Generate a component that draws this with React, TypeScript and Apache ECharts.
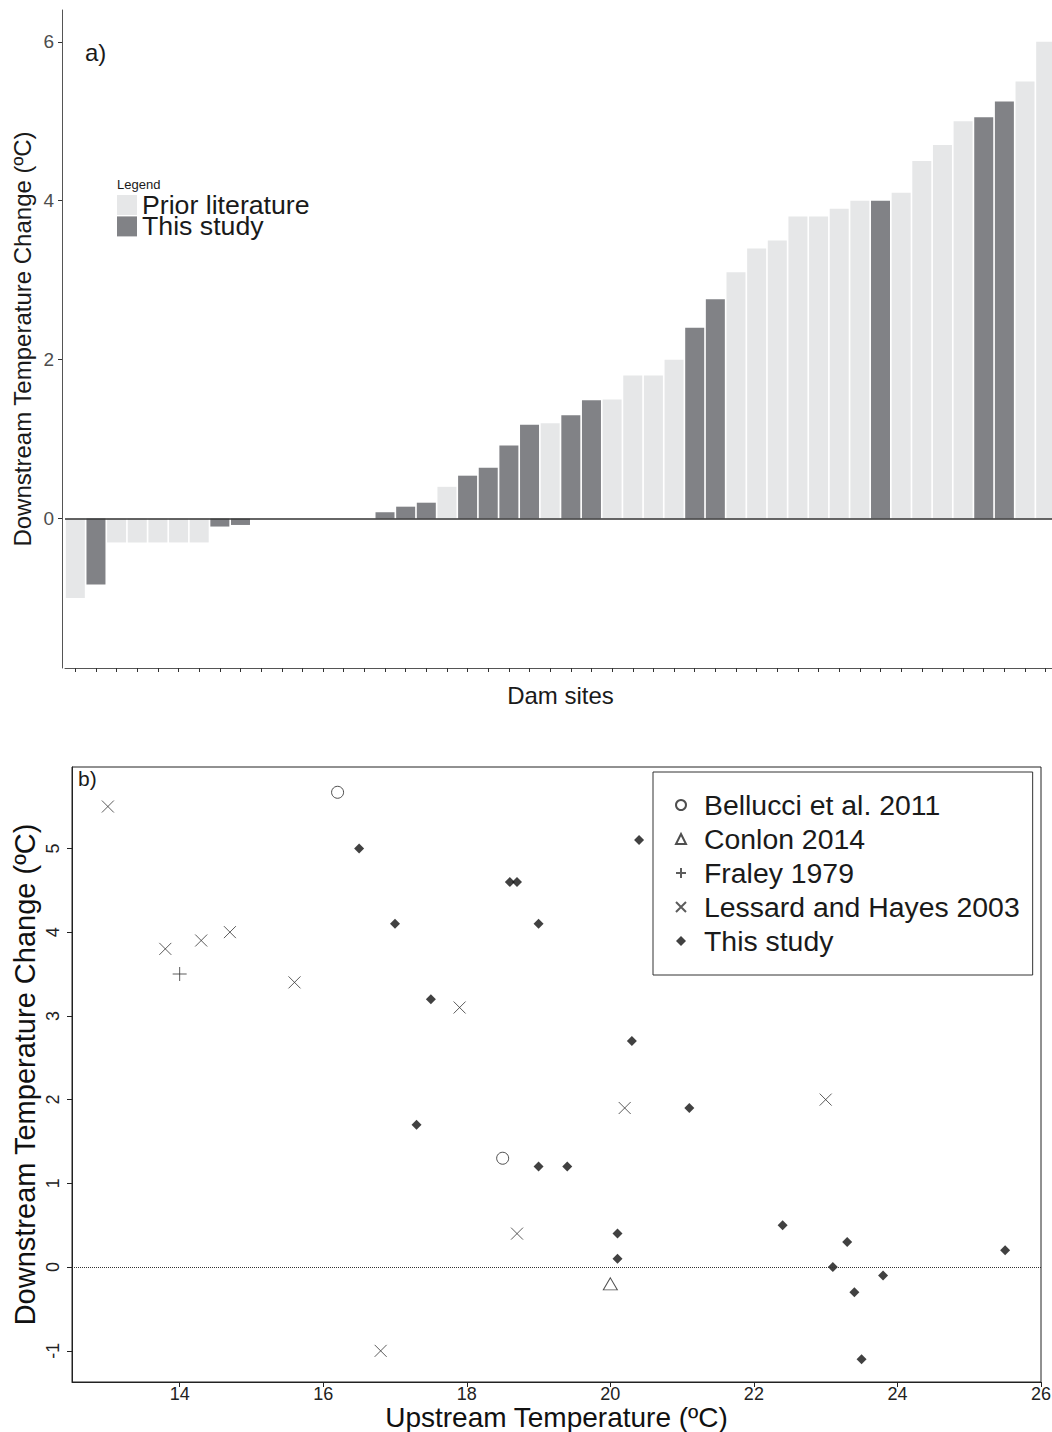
import React, { useEffect, useRef } from 'react';
import * as echarts from 'echarts';

const FONT = '"Liberation Sans", Arial, Helvetica, sans-serif';

// ---- Panel a) : downstream temperature change per dam site ----
const damValues = [
  -1.0, -0.83, -0.3, -0.3, -0.3, -0.3, -0.3, -0.1, -0.08, 0, 0, 0, 0, 0, 0, 0.08,
  0.15, 0.2, 0.4, 0.54, 0.64, 0.92, 1.18, 1.2, 1.3, 1.49, 1.5, 1.8, 1.8, 2.0, 2.4, 2.76,
  3.1, 3.4, 3.5, 3.8, 3.8, 3.9, 4.0, 4.0, 4.1, 4.5, 4.7, 5.0, 5.05, 5.25, 5.5, 6.0,
];
// P = Prior literature, T = This study
const damSource = [
  'P', 'T', 'P', 'P', 'P', 'P', 'P', 'T', 'T', 'P', 'P', 'P', 'P', 'P', 'P', 'T',
  'T', 'T', 'P', 'T', 'T', 'T', 'T', 'P', 'T', 'T', 'P', 'P', 'P', 'P', 'T', 'T',
  'P', 'P', 'P', 'P', 'P', 'P', 'P', 'T', 'P', 'P', 'P', 'P', 'T', 'T', 'P', 'P',
];
const damSites = damValues.map((_, i) => `Site ${i + 1}`);
const topYTicks = [0, 2, 4, 6];

// ---- Panel b) : downstream change vs upstream temperature ----
const bellucci = [[16.2, 5.67], [18.5, 1.3]];
const conlon = [[20.0, -0.2]];
const fraley = [[14.0, 3.5]];
const lessard = [
  [13.0, 5.5], [13.8, 3.8], [14.3, 3.9], [14.7, 4.0], [15.6, 3.4],
  [17.9, 3.1], [18.7, 0.4], [16.8, -1.0], [20.2, 1.9], [23.0, 2.0],
];
const thisStudy = [
  [16.5, 5.0], [17.0, 4.1], [17.5, 3.2], [18.6, 4.6], [18.7, 4.6], [19.0, 4.1],
  [20.4, 5.1], [20.3, 2.7], [21.1, 1.9], [17.3, 1.7], [19.0, 1.2], [19.4, 1.2],
  [20.1, 0.4], [20.1, 0.1], [22.4, 0.5], [23.3, 0.3], [23.1, 0.0], [23.8, -0.1],
  [23.4, -0.3], [23.5, -1.1], [25.5, 0.2],
];
const botXTicks = [14, 16, 18, 20, 22, 24, 26];
const botYTicks = [-1, 0, 1, 2, 3, 4, 5];

const PLUS = 'path://M5,0L5,10M0,5L10,5';
const CROSS = 'path://M0,0L10,10M10,0L0,10';

function buildTop(): any {
  const prior = damValues.map((v, i) => (damSource[i] === 'P' ? v : '-'));
  const mine = damValues.map((v, i) => (damSource[i] === 'T' ? v : '-'));
  return {
    animation: false,
    textStyle: { fontFamily: FONT },
    grid: { left: 65, right: -4, top: 10, bottom: 52, outerBoundsMode: 'none' },
    legend: {
      left: 117,
      top: 191.5,
      orient: 'vertical',
      icon: 'rect',
      itemWidth: 20,
      itemHeight: 20,
      itemGap: -5.6,
      padding: 0,
      selectedMode: false,
      textStyle: { fontSize: 26.7, lineHeight: 20, color: '#1a1a1a', fontFamily: FONT },
      data: ['Prior literature', 'This study'],
    },
    graphic: [
      { type: 'text', left: 117, top: 178, style: { text: 'Legend', fontSize: 13, fontFamily: FONT, fill: '#1a1a1a' } },
      { type: 'text', left: 85, top: 40, style: { text: 'a)', fontSize: 24, fontFamily: FONT, fill: '#1a1a1a' } },
    ],
    xAxis: {
      type: 'category',
      data: damSites,
      axisLine: { show: true, onZero: false, lineStyle: { color: '#555', width: 1 } },
      axisTick: { show: true, alignWithLabel: true, interval: 0, length: 4, lineStyle: { color: '#333' } },
      axisLabel: { show: false, interval: 0 },
      splitLine: { show: false },
      name: 'Dam sites',
      nameLocation: 'middle',
      nameGap: 15,
      nameMoveOverlap: false,
      nameTextStyle: { fontSize: 24, color: '#1a1a1a', fontFamily: FONT },
    },
    yAxis: {
      type: 'value',
      min: -1.88,
      max: 6.4,
      offset: 3,
      axisLine: { show: true, lineStyle: { color: '#555', width: 1 } },
      axisTick: { show: true, length: 4, customValues: topYTicks, lineStyle: { color: '#333' } },
      axisLabel: { customValues: topYTicks, fontSize: 19, color: '#4d4d4d', margin: 8, fontFamily: FONT },
      splitLine: { show: false },
      name: 'Downstream Temperature Change (ºC)',
      nameLocation: 'middle',
      nameGap: 28,
      nameMoveOverlap: false,
      nameTextStyle: { fontSize: 24, color: '#1a1a1a', fontFamily: FONT },
    },
    series: [
      {
        type: 'bar',
        name: 'Prior literature',
        data: prior,
        barGap: '-100%',
        barCategoryGap: '8%',
        itemStyle: { color: '#e6e7e8' },
        silent: true,
        markLine: {
          silent: true,
          symbol: ['none', 'none'],
          label: { show: false },
          lineStyle: { color: '#333', width: 1.5, type: 'solid' },
          data: [{ yAxis: 0 }],
        },
      },
      {
        type: 'bar',
        name: 'This study',
        data: mine,
        barGap: '-100%',
        barCategoryGap: '8%',
        itemStyle: { color: '#818286' },
        silent: true,
      },
    ],
  };
}

function buildBottom(): any {
  const open = { color: 'transparent', borderColor: '#222', borderWidth: 1 };
  return {
    animation: false,
    textStyle: { fontFamily: FONT },
    grid: {
      left: 72, right: 11, top: 47, bottom: 50, show: true, borderColor: '#222', borderWidth: 1,
      outerBoundsMode: 'none',
    },
    legend: {
      left: 653,
      top: 52,
      orient: 'vertical',
      backgroundColor: '#fff',
      borderColor: '#333',
      borderWidth: 1,
      padding: [16, 13, 17, 22],
      itemWidth: 10,
      itemHeight: 10,
      itemGap: 0,
      selectedMode: false,
      textStyle: { fontSize: 28.4, lineHeight: 34, color: '#1a1a1a', fontFamily: FONT, padding: [0, 0, 0, 13] },
      data: ['Bellucci et al. 2011', 'Conlon 2014', 'Fraley 1979', 'Lessard and Hayes 2003', 'This study'],
    },
    graphic: [
      { type: 'text', left: 78, top: 48, style: { text: 'b)', fontSize: 21, fontFamily: FONT, fill: '#1a1a1a' } },
    ],
    xAxis: {
      type: 'value',
      min: 12.5,
      max: 26,
      axisLine: { show: true, onZero: false, lineStyle: { color: '#222' } },
      axisTick: { show: true, length: 5, customValues: botXTicks, lineStyle: { color: '#222' } },
      axisLabel: { customValues: botXTicks, fontSize: 18, color: '#222', margin: 2.5, fontFamily: FONT },
      splitLine: { show: false },
      name: 'Upstream Temperature (ºC)',
      nameLocation: 'middle',
      nameGap: 21.5,
      nameMoveOverlap: false,
      nameTextStyle: { fontSize: 28, color: '#111', fontFamily: FONT },
    },
    yAxis: {
      type: 'value',
      min: -1.372,
      max: 5.972,
      axisLine: { show: true, onZero: false, lineStyle: { color: '#222' } },
      axisTick: { show: true, length: 5, customValues: botYTicks, lineStyle: { color: '#222' } },
      axisLabel: { customValues: botYTicks, rotate: 90, fontSize: 18, color: '#222', margin: 10, fontFamily: FONT },
      splitLine: { show: false },
      name: 'Downstream Temperature Change (ºC)',
      nameLocation: 'middle',
      nameGap: 33,
      nameMoveOverlap: false,
      nameTextStyle: { fontSize: 29, color: '#111', fontFamily: FONT },
    },
    series: [
      { type: 'scatter', name: 'Bellucci et al. 2011', data: bellucci, symbol: 'circle', symbolSize: 12, itemStyle: open, silent: true },
      { type: 'scatter', name: 'Conlon 2014', data: conlon, symbol: 'triangle', symbolSize: [14, 12], itemStyle: open, silent: true },
      { type: 'scatter', name: 'Fraley 1979', data: fraley, symbol: PLUS, symbolSize: 14, itemStyle: { color: 'transparent', borderColor: '#333', borderWidth: 1 }, silent: true },
      { type: 'scatter', name: 'Lessard and Hayes 2003', data: lessard, symbol: CROSS, symbolSize: 12, itemStyle: { color: 'transparent', borderColor: '#333', borderWidth: 1 }, silent: true },
      {
        type: 'scatter',
        name: 'This study',
        data: thisStudy,
        symbol: 'diamond',
        symbolSize: 10,
        itemStyle: { color: '#111' },
        silent: true,
        markLine: {
          silent: true,
          symbol: ['none', 'none'],
          label: { show: false },
          lineStyle: { color: '#333', width: 1, type: 'dotted' },
          data: [{ yAxis: 0 }],
        },
      },
    ],
  };
}

export default function App() {
  const topRef = useRef<HTMLDivElement>(null);
  const botRef = useRef<HTMLDivElement>(null);
  useEffect(() => {
    const top = echarts.init(topRef.current as HTMLDivElement, null, { renderer: 'svg' });
    top.setOption(buildTop());
    const bot = echarts.init(botRef.current as HTMLDivElement, null, { renderer: 'svg' });
    bot.setOption(buildBottom());
    return () => {
      top.dispose();
      bot.dispose();
    };
  }, []);
  return (
    <div style={{ position: 'absolute', left: 0, top: 0, width: 1052, height: 1432, background: '#fff' }}>
      <div ref={topRef} style={{ width: 1052, height: 720 }} />
      <div ref={botRef} style={{ width: 1052, height: 712 }} />
    </div>
  );
}
